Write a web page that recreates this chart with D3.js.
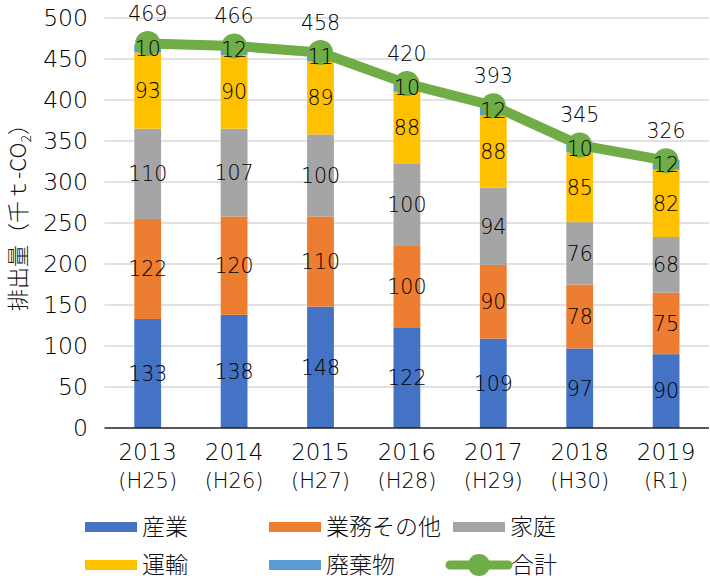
<!DOCTYPE html>
<html><head><meta charset="utf-8">
<script src="https://cdn.jsdelivr.net/npm/d3@7"></script>
<style>body{margin:0;background:#fff}svg{display:block}</style>
</head><body><svg id="c" width="710" height="583"></svg>
<script>
const years = ["2013","2014","2015","2016","2017","2018","2019"];
const eras = ["(H25)","(H26)","(H27)","(H28)","(H29)","(H30)","(R1)"];
const sangyo = [133,138,148,122,109,97,90];
const gyomu = [122,120,110,100,90,78,75];
const katei = [110,107,100,100,94,76,68];
const unyu = [93,90,89,88,88,85,82];
const haiki = [10,12,11,10,12,10,12];
const total = [469,466,458,420,393,345,326];
const yTicks = [0,50,100,150,200,250,300,350,400,450,500];
const seriesNames = ["産業","業務その他","家庭","運輸","廃棄物"];
const seriesVals = [sangyo,gyomu,katei,unyu,haiki];
const colors = ["#4472C4","#ED7D31","#A5A5A5","#FFC000","#5B9BD5"];
const lineColor = "#70AD47";
const numFont = "'DejaVu Sans', sans-serif";
const numWeight = 200;
const jpFont = "'Noto Sans CJK JP', sans-serif";

const svg = d3.select("#c");
const x = d3.scaleBand().domain(years).range([104.5,709.3]).paddingInner(0.69).paddingOuter(0.345);
const y = d3.scaleLinear().domain([0,500]).range([428,18]);

// grid
svg.append("g").selectAll("line").data(yTicks.filter(d=>d>0)).join("line")
  .attr("x1",104.5).attr("x2",709).attr("y1",d=>y(d)).attr("y2",d=>y(d))
  .attr("stroke","#d9d9d9").attr("stroke-width",1.3);
// y tick labels
svg.append("g").selectAll("text").data(yTicks).join("text")
  .attr("x",88).attr("y",d=>y(d)).attr("dy","0.36em").attr("text-anchor","end")
  .attr("font-family",numFont).attr("font-weight",numWeight).attr("font-size",23.5).attr("fill","#000").text(d=>d);

// stack
const rows = years.map((yr,i)=>{const o={year:yr}; seriesNames.forEach((s,k)=>o[s]=seriesVals[k][i]); return o;});
const stack = d3.stack().keys(seriesNames)(rows);
const gBars = svg.append("g");
stack.forEach((layer,k)=>{
  gBars.append("g").attr("fill",colors[k]).selectAll("rect").data(layer).join("rect")
    .attr("x",d=>x(d.data.year)).attr("width",x.bandwidth())
    .attr("y",d=>y(d[1])).attr("height",d=>y(d[0])-y(d[1]));
});
// axis line
svg.append("line").attr("x1",104.5).attr("x2",709).attr("y1",y(0)).attr("y2",y(0)).attr("stroke","#222").attr("stroke-width",1.3);

// total line
const cx = d=>x(d)+x.bandwidth()/2;
svg.append("path").datum(total)
  .attr("d",d3.line().x((d,i)=>cx(years[i])).y(d=>y(d)))
  .attr("fill","none").attr("stroke",lineColor).attr("stroke-width",10).attr("stroke-linejoin","round");
svg.append("g").selectAll("circle").data(total).join("circle")
  .attr("cx",(d,i)=>cx(years[i])).attr("cy",d=>y(d)).attr("r",12.5).attr("fill",lineColor);

// segment labels
const gLab = svg.append("g").attr("font-family",numFont).attr("font-weight",numWeight).attr("font-size",20.5).attr("fill","#000").attr("text-anchor","middle");
stack.forEach((layer,k)=>{
  gLab.append("g").selectAll("text").data(layer).join("text")
    .attr("x",d=>cx(d.data.year)).attr("y",d=>y((d[0]+d[1])/2)).attr("dy","0.36em")
    .text(d=>d.data[seriesNames[k]]);
});
// total labels
gLab.append("g").selectAll("text").data(total).join("text")
  .attr("x",(d,i)=>cx(years[i])).attr("y",d=>y(d)-30).attr("dy","0.36em").text(d=>d);

// x labels
const gx = svg.append("g").attr("font-family",numFont).attr("font-weight",numWeight).attr("fill","#000").attr("text-anchor","middle");
gx.selectAll("text.yr").data(years).join("text").attr("class","yr")
  .attr("x",d=>cx(d)).attr("y",460).attr("font-size",23).text(d=>d);
gx.selectAll("text.era").data(eras).join("text").attr("class","era")
  .attr("x",(d,i)=>cx(years[i])).attr("y",488).attr("font-size",21).text(d=>d);

// y title
const t = svg.append("text").attr("transform","translate(26,212) rotate(-90)")
  .attr("text-anchor","middle").attr("font-family",jpFont).attr("font-weight",300).attr("font-size",22).attr("fill","#111");
t.append("tspan").text("排出量（千ｔ-CO");
t.append("tspan").attr("font-size",14).attr("dy",5).text("2");
t.append("tspan").attr("dy",-5).text("）");

// legend
const legItems = [
  {name:"産業",color:colors[0],x:85,y:527},
  {name:"業務その他",color:colors[1],x:269,y:527},
  {name:"家庭",color:colors[2],x:453,y:527},
  {name:"運輸",color:colors[3],x:85,y:565},
  {name:"廃棄物",color:colors[4],x:269,y:565}
];
const gl = svg.append("g");
legItems.forEach(it=>{
  gl.append("rect").attr("x",it.x).attr("y",it.y-5).attr("width",52).attr("height",10).attr("fill",it.color);
  gl.append("text").attr("x",it.x+57).attr("y",it.y).attr("dy","0.36em").attr("font-family",jpFont).attr("font-weight",300).attr("font-size",23).attr("fill","#111").text(it.name);
});
gl.append("line").attr("x1",450).attr("x2",508).attr("y1",565).attr("y2",565).attr("stroke",lineColor).attr("stroke-width",9).attr("stroke-linecap","round");
gl.append("circle").attr("cx",479).attr("cy",565).attr("r",11).attr("fill",lineColor);
gl.append("text").attr("x",511).attr("y",565).attr("dy","0.36em").attr("font-family",jpFont).attr("font-weight",300).attr("font-size",23).attr("fill","#111").text("合計");
</script></body></html>
